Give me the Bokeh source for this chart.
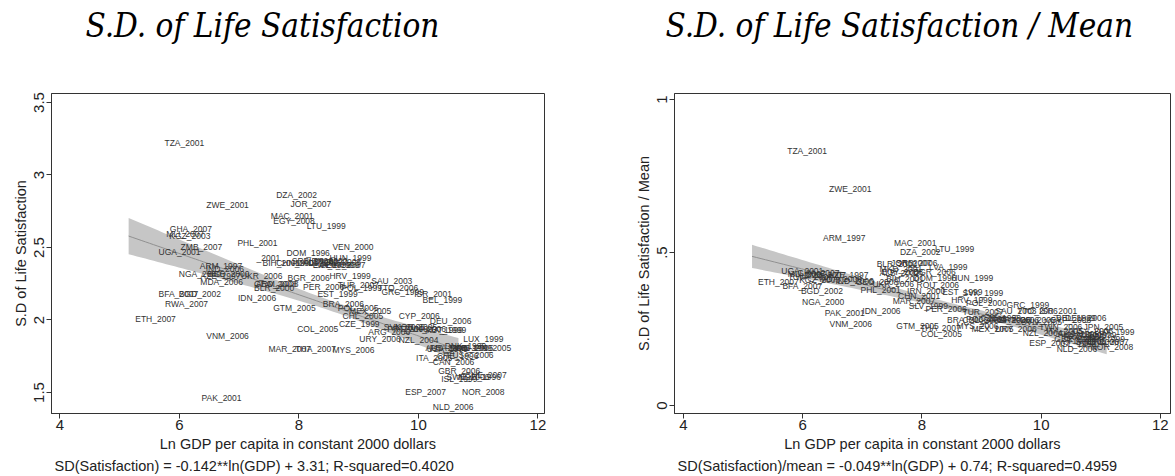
import numpy as np
from bokeh.plotting import figure
from bokeh.layouts import row, column
from bokeh.models import ColumnDataSource, Range1d, Title, FixedTicker
from bokeh.core.properties import value
from bokeh.embed import file_html
from bokeh.resources import INLINE

# ---------------- Left panel: S.D. of life satisfaction ----------------
sd_codes = ["TZA_2001", "DZA_2002", "JOR_2007", "ZWE_2001", "MAC_2001", "EGY_2008", "LTU_1999",
            "GHA_2007", "MLI_2007", "KGZ_2003", "PHL_2001", "VEN_2000", "ZMB_2007", "UGA_2001",
            "DOM_1996", "HUN_1999", "_2001", "BIH_2001", "CHN_2001", "SRB_2006", "MKD_2001",
            "ALB_2002", "IRN_2000", "LVA_1999", "ROU_2005", "SLV_1999", "ZAF_2007", "ARM_1997",
            "IND_2006", "AZE_1997", "NGA_2000", "BGD_2000", "UKR_2006", "MDA_2006", "BGR_2006",
            "HRV_1999", "SAU_2003", "GEO_2008", "ARM_2008", "BLR_2000", "PER_2006", "TUR_2007",
            "POL_1999", "TTO_2006", "GRC_1999", "ISR_2001", "BEL_1999", "EST_1999", "BFA_2007",
            "BGD_2002", "RWA_2007", "IDN_2006", "GTM_2005", "BRA_2006", "POL_2005", "MEX_2005",
            "CHL_2005", "ETH_2007", "CYP_2006", "DEU_2006", "CZE_1999", "COL_2005", "ARG_2006",
            "SVN_2005", "PRT_2006", "KOR_2005", "TWN_2006", "AUT_1999", "ITA_1999", "VNM_2006",
            "URY_2006", "NZL_2004", "LUX_1999", "MAR_2007", "THA_2007", "MYS_2006", "AUS_2005",
            "USA_1999", "FRA_2006", "DNK_1999", "SWE_1999", "FIN_2005", "JPN_2005", "USA_2006",
            "ITA_2005", "CHE_1996", "CAN_2006", "GBR_2006", "SWE_2006", "CHE_2007", "NOR_1996",
            "ISL_1999", "ESP_2007", "NOR_2008", "NLD_2006", "PAK_2001"]
sd_gdp = [5.75, 7.62, 7.86, 6.45, 7.53, 7.57, 8.13,
          5.84, 5.78, 5.83, 6.97, 8.56, 6.02, 5.65,
          7.79, 8.51, 7.29, 7.39, 7.62, 7.88, 7.94,
          8.07, 8.17, 8.23, 8.33, 8.36, 8.45, 6.34,
          6.44, 6.35, 5.99, 6.47, 7.03, 6.35, 7.81,
          8.51, 9.21, 7.25, 7.28, 7.25, 8.07, 8.65,
          8.71, 9.32, 9.38, 9.93, 10.07, 8.31, 5.65,
          5.99, 5.76, 6.98, 7.57, 8.40, 8.65, 8.84,
          8.73, 5.26, 9.67, 10.19, 8.67, 7.97, 9.16,
          9.42, 9.48, 9.61, 9.74, 10.12, 10.14, 6.45,
          9.01, 9.67, 10.75, 7.49, 7.94, 8.56, 10.12,
          10.14, 10.19, 10.44, 10.51, 10.63, 10.89, 10.57,
          9.96, 10.31, 10.24, 10.33, 10.47, 10.78, 10.67,
          10.38, 9.78, 10.73, 10.24, 6.37]
sd_val = [3.22, 2.86, 2.80, 2.79, 2.72, 2.68, 2.65,
          2.63, 2.59, 2.58, 2.53, 2.50, 2.50, 2.47,
          2.46, 2.43, 2.43, 2.39, 2.39, 2.41, 2.39,
          2.40, 2.41, 2.38, 2.40, 2.38, 2.38, 2.37,
          2.35, 2.30, 2.32, 2.32, 2.30, 2.26, 2.29,
          2.30, 2.27, 2.25, 2.25, 2.22, 2.23, 2.24,
          2.22, 2.22, 2.19, 2.18, 2.14, 2.18, 2.18,
          2.18, 2.11, 2.15, 2.08, 2.11, 2.08, 2.06,
          2.03, 2.01, 2.03, 1.99, 1.97, 1.94, 1.92,
          1.95, 1.94, 1.95, 1.94, 1.93, 1.93, 1.89,
          1.87, 1.86, 1.87, 1.80, 1.80, 1.79, 1.81,
          1.80, 1.81, 1.82, 1.81, 1.81, 1.81, 1.76,
          1.74, 1.75, 1.71, 1.65, 1.61, 1.62, 1.61,
          1.59, 1.50, 1.50, 1.40, 1.46]

# ---------------- Right panel: S.D. / mean ----------------
cv_codes = ["TZA_2001", "ZWE_2001", "ARM_1997", "MAC_2001", "DZA_2002", "LTU_1999", "BLR_2000",
            "SRB_2006", "JOR_2007", "LVA_1999", "BGR_2006", "ALB_2002", "MKD_2001", "EGY_2008",
            "UKR_2006", "BIH_2001", "DOM_1996", "HUN_1999", "ROU_2006", "IRN_2000", "EST_1999",
            "SVK_1999", "CHN_2001", "MAR_2007", "HRV_1999", "SLV_1999", "PER_2006", "POL_2000",
            "TUR_2007", "GRC_1999", "SAU_2003", "ISR_2001", "TTO_2006", "BEL_1999", "DEU_2006",
            "CYP_2006", "BRA_2006", "CHL_2005", "POL_2005", "ARG_2006", "PRT_2006", "KOR_2005",
            "SVN_2005", "CZE_1999", "GTM_2005", "THA_2007", "COL_2005", "MYS_2006", "MEX_2005",
            "URY_2006", "TWN_2006", "NZL_2004", "JPN_2005", "LUX_1999", "ITA_2005", "AUS_2005",
            "FRA_2006", "USA_2006", "CAN_2006", "GBR_2006", "AUT_1999", "FIN_2005", "SWE_2006",
            "CHE_2007", "DNK_1999", "ISL_1999", "NOR_2008", "ESP_2007", "NLD_2006", "UGA_2001",
            "MLI_2007", "GHA_2007", "ZMB_2007", "RWA_2007", "KGZ_2003", "AZE_1997", "IND_2006",
            "MDA_2006", "GEO_2008", "ETH_2007", "BFA_2007", "BGD_2002", "NGA_2000", "PAK_2001",
            "IDN_2006", "PHL_2001", "VNM_2006"]
cv_gdp = [5.74, 6.44, 6.34, 7.53, 7.63, 8.22, 7.24,
          7.57, 7.48, 8.12, 7.86, 7.29, 7.29, 7.32,
          7.17, 7.40, 7.85, 8.49, 7.91, 7.75, 8.34,
          8.68, 7.60, 7.51, 8.49, 7.78, 8.06, 8.74,
          8.68, 9.42, 9.23, 9.97, 9.60, 10.25, 10.40,
          10.15, 8.42, 8.68, 8.74, 9.11, 9.29, 9.54,
          9.66, 8.98, 7.57, 7.97, 7.98, 8.58, 8.83,
          9.23, 9.97, 9.69, 10.71, 10.89, 10.09, 10.28,
          10.37, 10.52, 10.40, 10.22, 10.58, 10.46, 10.58,
          10.77, 10.71, 10.31, 10.83, 9.80, 10.26, 5.64,
          5.75, 5.91, 6.03, 5.78, 5.94, 6.43, 6.55,
          6.28, 6.89, 5.25, 5.66, 5.97, 5.99, 6.37,
          7.00, 6.97, 6.45]
cv_val = [0.831, 0.707, 0.547, 0.531, 0.503, 0.511, 0.463,
          0.465, 0.465, 0.454, 0.438, 0.432, 0.446, 0.436,
          0.398, 0.414, 0.416, 0.416, 0.395, 0.376, 0.370,
          0.368, 0.357, 0.343, 0.346, 0.324, 0.316, 0.334,
          0.305, 0.330, 0.310, 0.310, 0.308, 0.286, 0.286,
          0.280, 0.280, 0.278, 0.284, 0.280, 0.278, 0.280,
          0.273, 0.286, 0.261, 0.254, 0.234, 0.261, 0.251,
          0.251, 0.256, 0.237, 0.258, 0.240, 0.245, 0.234,
          0.223, 0.243, 0.232, 0.218, 0.229, 0.212, 0.207,
          0.207, 0.218, 0.202, 0.191, 0.206, 0.184, 0.439,
          0.430, 0.432, 0.427, 0.419, 0.411, 0.428, 0.408,
          0.414, 0.403, 0.403, 0.390, 0.376, 0.338, 0.303,
          0.310, 0.379, 0.266]

# regression fits (as reported under each panel)
sd_fit = {"slope": -0.142, "intercept": 3.31, "xmin": 5.15, "xmax": 10.67,
          "xbar": 8.6, "se0": 0.035, "se_slope": 0.0348}
cv_fit = {"slope": -0.049, "intercept": 0.74, "xmin": 5.15, "xmax": 11.1,
          "xbar": 8.6, "se0": 0.011, "se_slope": 0.0105}

titles = ["S.D. of Life Satisfaction", "S.D. of Life Satisfaction / Mean"]
ylabels = ["S.D of Life Satisfaction", "S.D of Life Satisfaction / Mean"]
xlabel = "Ln GDP per capita in constant 2000 dollars"
notes = ["SD(Satisfaction) = -0.142**ln(GDP) + 3.31; R-squared=0.4020",
         "SD(Satisfaction)/mean = -0.049**ln(GDP) + 0.74; R-squared=0.4959"]
x_ticks = [4, 6, 8, 10, 12]
sd_ticks = [1.5, 2, 2.5, 3, 3.5]
sd_tick_labels = ["1.5", "2", "2.5", "3", "3.5"]
cv_ticks = [0, 0.5, 1]
cv_tick_labels = ["0", ".5", "1"]

SANS = "Liberation Sans"
SERIF = "DejaVu Serif Condensed"
TOTAL_W = 1175
TITLE_H = 50
PLOT_H = 426

# ---- title strip (two italic serif headings) ----
tfig = figure(width=TOTAL_W, height=TITLE_H, output_backend="svg", toolbar_location=None,
              x_range=Range1d(0, TOTAL_W), y_range=Range1d(TITLE_H, 0),
              x_axis_type=None, y_axis_type=None, min_border=0)
tfig.outline_line_color = None
tfig.grid.visible = False
tfig.text(x=[85, 665], y=[25, 25], text=titles, text_font=value(SERIF),
          text_font_style="italic", text_font_size=value("33px"), text_color="#000000",
          text_align="left", text_baseline="middle")


def panel(codes, gx, gy, fit, xr, yr, ticks, tick_labels, ylabel, note,
          width, left, right):
    p = figure(width=width, height=PLOT_H, output_backend="svg", toolbar_location=None,
               x_range=Range1d(*xr), y_range=Range1d(*yr),
               min_border_left=left, min_border_right=right,
               min_border_top=43, min_border_bottom=63)
    p.xgrid.visible = False
    p.ygrid.visible = False
    p.outline_line_color = "#333333"
    p.outline_line_width = 1
    p.background_fill_color = "white"
    p.border_fill_color = "white"

    # confidence band and fit line
    xs = np.linspace(fit["xmin"], fit["xmax"], 80)
    yhat = fit["slope"] * xs + fit["intercept"]
    hw = np.sqrt(fit["se0"] ** 2 + (fit["se_slope"] * (xs - fit["xbar"])) ** 2)
    p.varea(x=xs, y1=yhat - hw, y2=yhat + hw, fill_color="#c6c6c6")
    p.line(xs, yhat, line_color="#909090", line_width=1)

    src = ColumnDataSource(dict(x=gx, y=gy, code=codes))
    p.text(x="x", y="y", text="code", source=src, text_font=value(SANS),
           text_font_size=value("8.5px"), text_color="#333333",
           text_align="left", text_baseline="middle")

    for ax in (p.xaxis[0], p.yaxis[0]):
        ax.axis_line_color = "#333333"
        ax.major_tick_line_color = "#333333"
        ax.major_tick_in = 0
        ax.major_tick_out = 5
        ax.minor_tick_line_color = None
        ax.major_label_text_font = SANS
        ax.major_label_text_font_size = "15px"
        ax.major_label_text_color = "#222222"
        ax.axis_label_text_font = SANS
        ax.axis_label_text_font_style = "normal"
        ax.axis_label_text_font_size = "14.5px"
        ax.axis_label_text_color = "#222222"

    p.xaxis.ticker = FixedTicker(ticks=x_ticks)
    p.xaxis.axis_label = xlabel
    p.xaxis.major_label_standoff = 1
    p.xaxis.axis_label_standoff = 3

    p.yaxis.ticker = FixedTicker(ticks=ticks)
    p.yaxis.major_label_overrides = {t: l for t, l in zip(ticks, tick_labels)}
    p.yaxis.major_label_orientation = "vertical"
    p.yaxis.axis_label = ylabel
    p.yaxis.major_label_standoff = 2
    p.yaxis.axis_label_standoff = 3

    p.add_layout(Title(text=note, align="left", offset=3, text_font=SANS,
                       text_font_style="normal", text_font_size="14.5px",
                       text_color="#222222", standoff=2), "below")
    return p


p1 = panel(sd_codes, sd_gdp, sd_val, sd_fit, (3.859, 12.11), (1.355, 3.562),
           sd_ticks, sd_tick_labels, ylabels[0], notes[0],
           width=625, left=51, right=81)
p2 = panel(cv_codes, cv_gdp, cv_val, cv_fit, (3.849, 12.17), (-0.026, 1.02),
           cv_ticks, cv_tick_labels, ylabels[1], notes[1],
           width=550, left=49, right=5)

layout = column(tfig, row(p1, p2))
open("out.html", "w").write(file_html(layout, INLINE))
